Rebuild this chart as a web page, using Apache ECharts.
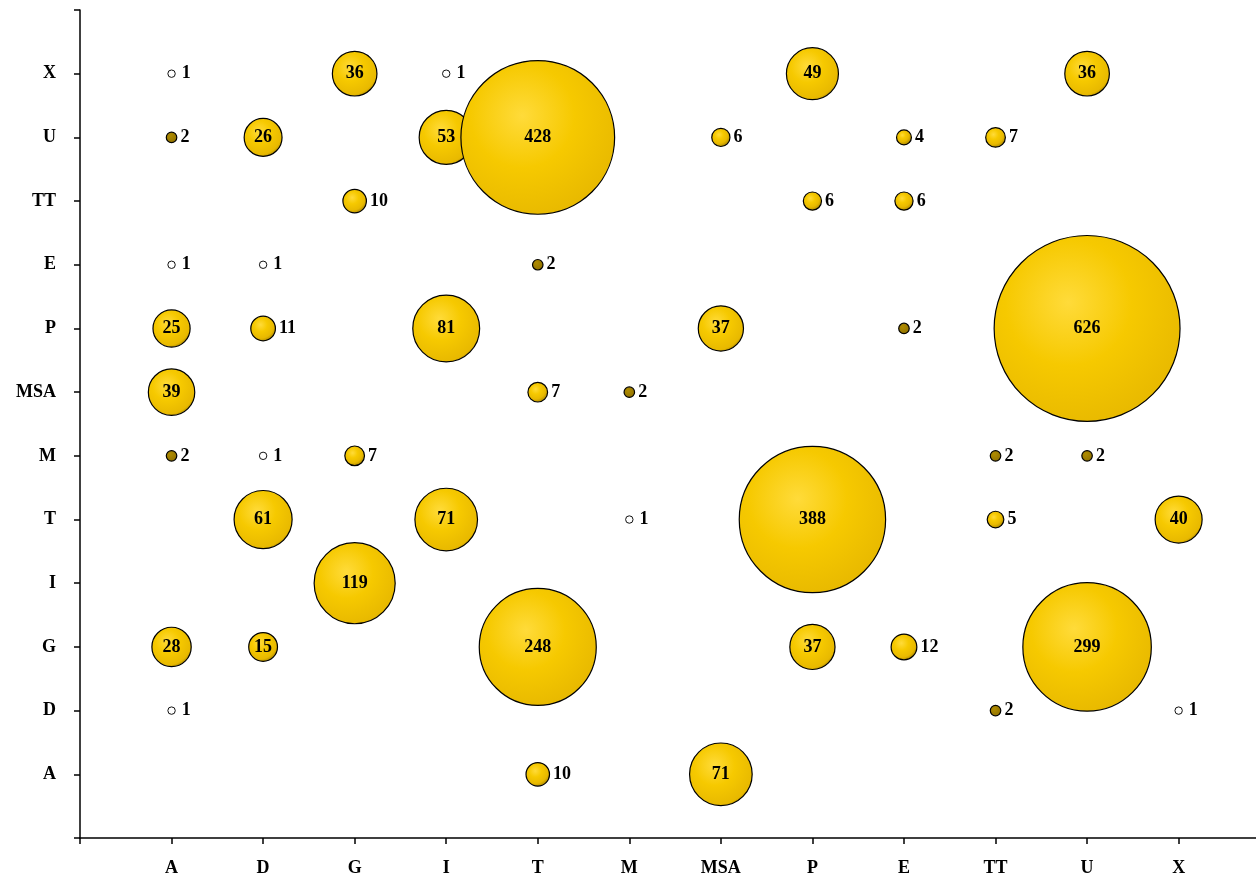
<!DOCTYPE html>
<html><head><meta charset="utf-8">
<script src="https://cdn.jsdelivr.net/npm/echarts@6/dist/echarts.min.js"></script>
<style>html,body{margin:0;padding:0;background:#fff}#c{width:1256px;height:873px}</style>
</head><body><div id="c"></div>
<script>
// Category tick labels (index 1..12 on both axes)
const xCategories = ['A','D','G','I','T','M','MSA','P','E','TT','U','X'];
const yCategories = ['A','D','G','I','T','M','MSA','P','E','TT','U','X'];

// Bubbles: [xCategory, yCategory, value]
const rowX   = [['A','X',1],['G','X',36],['I','X',1],['P','X',49],['U','X',36]];
const rowU   = [['A','U',2],['D','U',26],['I','U',53],['T','U',428],['MSA','U',6],['E','U',4],['TT','U',7]];
const rowTT  = [['G','TT',10],['P','TT',6],['E','TT',6]];
const rowE   = [['A','E',1],['D','E',1],['T','E',2]];
const rowP   = [['A','P',25],['D','P',11],['I','P',81],['MSA','P',37],['E','P',2],['U','P',626]];
const rowMSA = [['A','MSA',39],['T','MSA',7],['M','MSA',2]];
const rowM   = [['A','M',2],['D','M',1],['G','M',7],['TT','M',2],['U','M',2]];
const rowT   = [['D','T',61],['I','T',71],['M','T',1],['P','T',388],['TT','T',5],['X','T',40]];
const rowI   = [['G','I',119]];
const rowG   = [['A','G',28],['D','G',15],['T','G',248],['P','G',37],['E','G',12],['U','G',299]];
const rowD   = [['A','D',1],['TT','D',2],['X','D',1]];
const rowA   = [['T','A',10],['MSA','A',71]];

const all = [].concat(rowX,rowU,rowTT,rowE,rowP,rowMSA,rowM,rowT,rowI,rowG,rowD,rowA);

const fontFam = '"Liberation Serif","Times New Roman",serif';
const sizeOf = v => 7.43*Math.sqrt(v);

function goldFill(v){
  const R = sizeOf(v)/2;
  if (R < 6) return {type:'radial', x:0.4, y:0.36, r:0.7, colorStops:[
    {offset:0, color:'#B08C00'},{offset:1, color:'#8C6E00'}]};
  const band = Math.min(0.9, 3.2/R);      // darker outer rim of ~3px
  const a = Math.max(0.05, 1 - band);
  return {type:'radial', x:0.4, y:0.36, r:0.7, colorStops:[
    {offset:0, color:'#FFDB3A'},
    {offset:Math.min(a*0.5,0.5), color:'#F6C900'},
    {offset:a, color:'#E8B900'},
    {offset:1, color:'#9A7A00'}]};
}

const data = all.map(d => {
  const v = d[2];
  const item = {value:[xCategories.indexOf(d[0])+1, yCategories.indexOf(d[1])+1, v]};
  if (v === 1) item.itemStyle = {color:'#ffffff', borderColor:'#111', borderWidth:1};
  else item.itemStyle = {color: goldFill(v)};
  if (v < 15) item.label = {position:'right', distance: v === 1 ? 6 : 3};
  return item;
});

const ticks = [0,1,2,3,4,5,6,7,8,9,10,11,12];

const chart = echarts.init(document.getElementById('c'));
chart.setOption({
  animation:false,
  backgroundColor:'#ffffff',
  grid:{left:80, right:0, top:10, bottom:35, containLabel:false, outerBoundsMode:'none'},
  xAxis:{type:'value', min:0, max:12.845,
    axisLine:{onZero:false, lineStyle:{color:'#000', width:1.5}},
    axisTick:{show:true, length:6, customValues:ticks, lineStyle:{color:'#000', width:1.5}},
    splitLine:{show:false},
    axisLabel:{margin:21, color:'#000', fontFamily:fontFam, fontWeight:'bold', fontSize:18,
      customValues:ticks, formatter:v => xCategories[Math.round(v)-1] || ''}},
  yAxis:{type:'value', min:0, max:13, interval:1,
    axisLine:{onZero:false, lineStyle:{color:'#000', width:1.5}},
    axisTick:{show:true, length:6, lineStyle:{color:'#000', width:1.5}},
    splitLine:{show:false},
    axisLabel:{margin:24, color:'#000', fontFamily:fontFam, fontWeight:'bold', fontSize:18,
      formatter:v => yCategories[v-1] || ''}},
  series:[{
    type:'scatter',
    data:data,
    symbolSize: val => sizeOf(val[2]),
    itemStyle:{borderColor:'#000', borderWidth:1.2, opacity:1},
    label:{show:true, position:'inside', color:'#000', fontFamily:fontFam, fontWeight:'bold', fontSize:18,
      formatter:p => p.value[2]},
    emphasis:{disabled:true}
  }]
});
</script></body></html>
